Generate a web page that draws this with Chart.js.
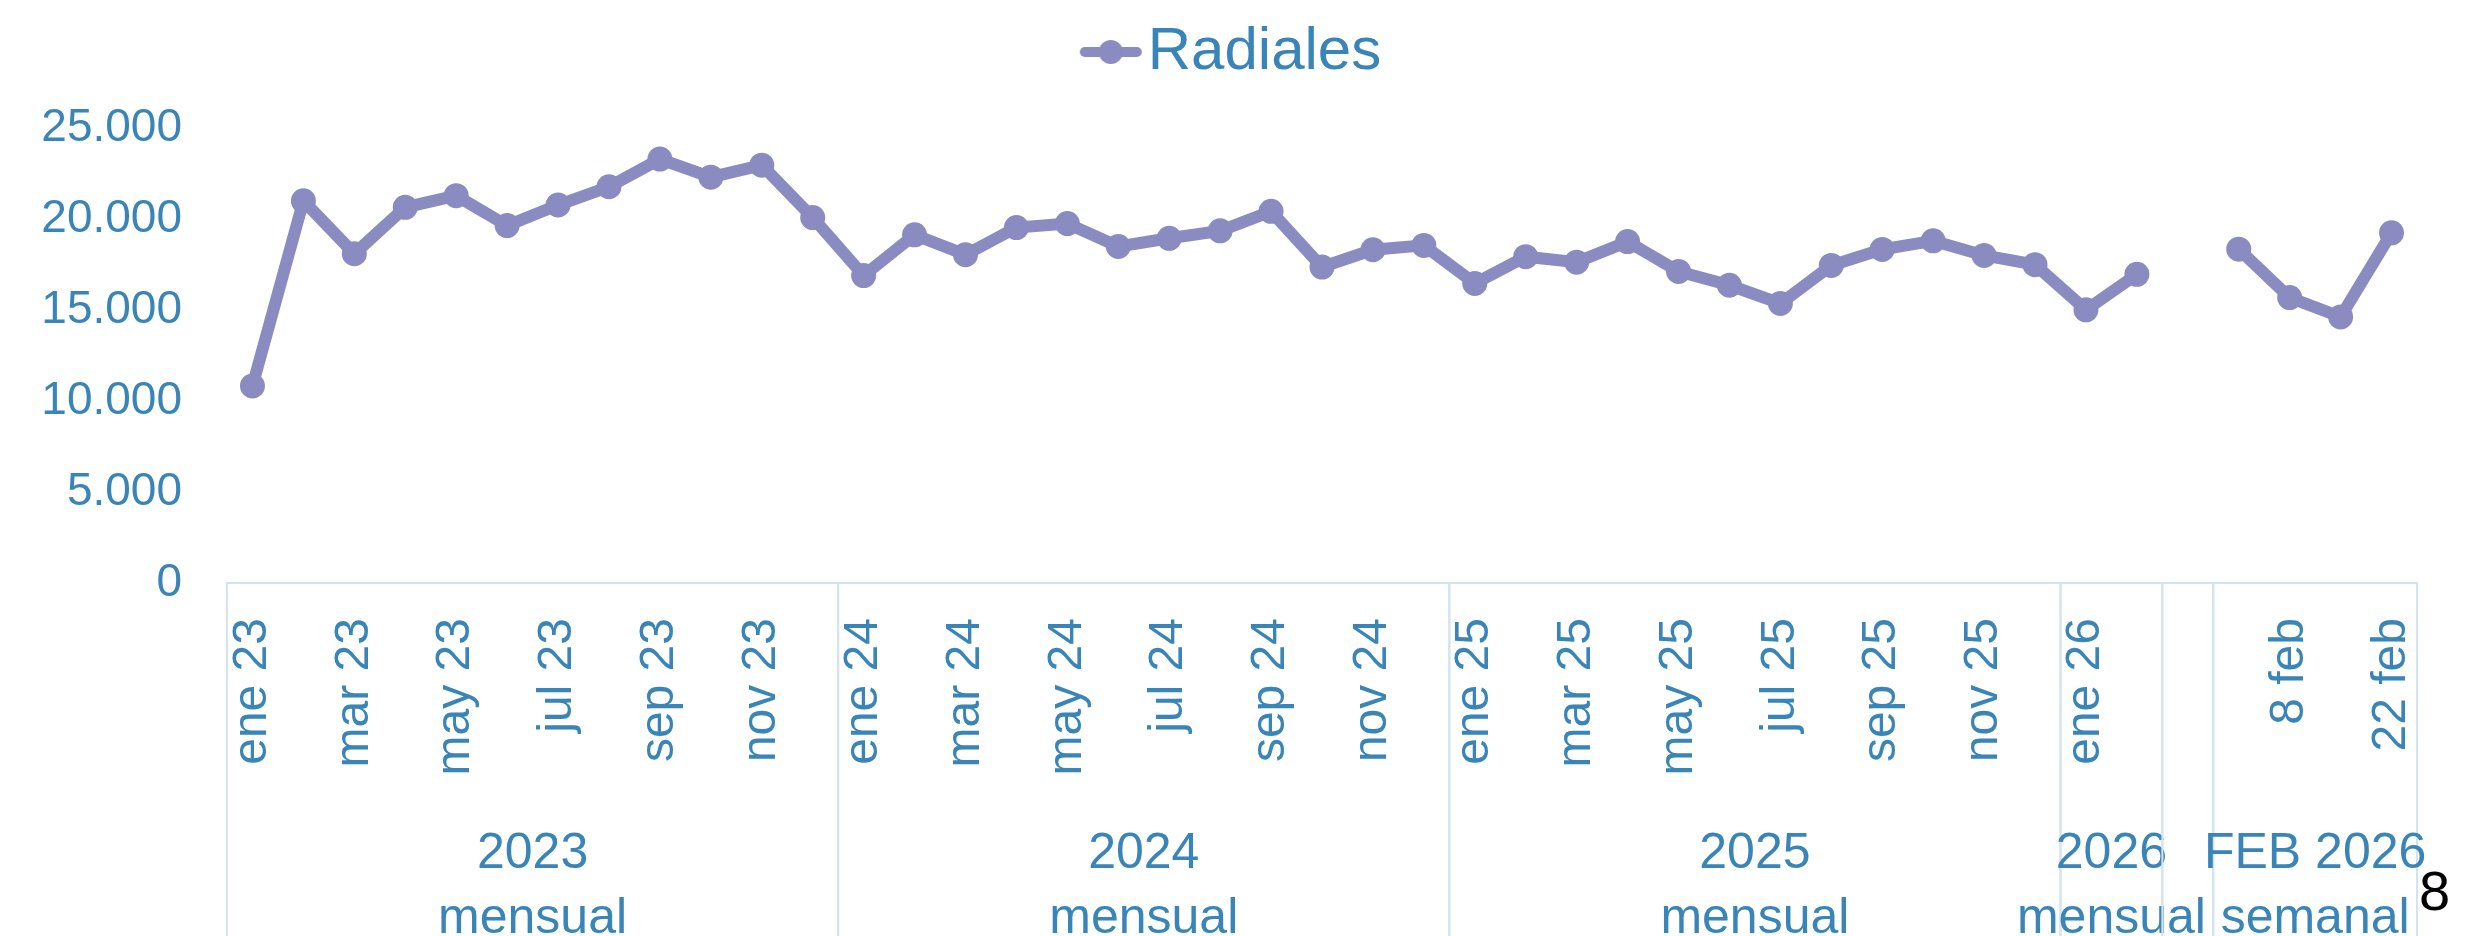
<!DOCTYPE html>
<html>
<head>
<meta charset="utf-8">
<script src="https://cdn.jsdelivr.net/npm/chart.js@4/dist/chart.umd.min.js"></script>
<style>
  html, body { margin: 0; padding: 0; background: #ffffff; }
  #wrap { width: 2468px; height: 936px; position: relative; }
</style>
</head>
<body>
<div id="wrap"><canvas id="myChart"></canvas></div>
<script>
// categorias (mensual 2023-2026 + semanal feb 2026)
const meses2023 = ["ene 23", "feb 23", "mar 23", "abr 23", "may 23", "jun 23", "jul 23", "ago 23", "sep 23", "oct 23", "nov 23", "dic 23"];
const meses2024 = ["ene 24", "feb 24", "mar 24", "abr 24", "may 24", "jun 24", "jul 24", "ago 24", "sep 24", "oct 24", "nov 24", "dic 24"];
const meses2025 = ["ene 25", "feb 25", "mar 25", "abr 25", "may 25", "jun 25", "jul 25", "ago 25", "sep 25", "oct 25", "nov 25", "dic 25"];
const meses2026 = ["ene 26", "feb 26"];
const semanasFeb2026 = ["1 feb", "8 feb", "15 feb", "22 feb"];

// valores de la serie "Radiales"
const radiales2023 = [10830, 21000, 18090, 20640, 21280, 19640, 20770, 21770, 23290, 22300, 22960, 20080];
const radiales2024 = [16890, 19130, 18040, 19530, 19750, 18490, 18940, 19350, 20420, 17360, 18310, 18550];
const radiales2025 = [16460, 17930, 17630, 18760, 17120, 16360, 15360, 17450, 18330, 18800, 18000, 17490];
const radiales2026 = [15010, 16960];
const radialesSemanal = [18340, 15680, 14620, 19240];

// grupos del eje x
const grupoAnio = ["2023", "2024", "2025", "2026", "", "FEB 2026"];
const grupoTipo = ["mensual", "mensual", "mensual", "mensual", "", "semanal"];
const grupoLargo = [12, 12, 12, 2, 1, 4];

const yTicks = [0, 5000, 10000, 15000, 20000, 25000];

const azul = "#3A85B8";
const lineaColor = "#8A8BC0";
const ejeColor = "#D5E3F0";
const fuente = "'Liberation Sans', Arial, sans-serif";

const labels = [...meses2023, ...meses2024, ...meses2025, ...meses2026, "", ...semanasFeb2026];
const valores = [...radiales2023, ...radiales2024, ...radiales2025, ...radiales2026, null, ...radialesSemanal];

// icono de la leyenda: linea con circulo (con margen transparente a la izquierda)
const icono = document.createElement("canvas");
icono.width = 128;
icono.height = 26;
const ic = icono.getContext("2d");
ic.strokeStyle = lineaColor;
ic.lineWidth = 10;
ic.lineCap = "round";
ic.beginPath();
ic.moveTo(64, 13);
ic.lineTo(116, 13);
ic.stroke();
ic.fillStyle = lineaColor;
ic.beginPath();
ic.arc(90, 13, 12, 0, Math.PI * 2);
ic.fill();

// espacio extra bajo la leyenda
const margenLeyenda = {
  id: "margenLeyenda",
  beforeInit(chart) {
    const fit = chart.legend.fit;
    chart.legend.fit = function () {
      fit.bind(chart.legend)();
      this.height += 36;
    };
  },
};

const gruposPlugin = {
  id: "grupos",
  afterDraw(chart) {
    const ctx = chart.ctx;
    const x = chart.scales.x;
    const area = chart.chartArea;
    const half = (x.getPixelForTick(1) - x.getPixelForTick(0)) / 2;
    ctx.save();
    ctx.strokeStyle = ejeColor;
    ctx.lineWidth = 2;
    ctx.fillStyle = azul;
    ctx.font = "50px " + fuente;
    ctx.textAlign = "center";
    ctx.textBaseline = "alphabetic";
    let inicio = 0;
    grupoLargo.forEach((n, g) => {
      const izq = x.getPixelForValue(inicio) - half;
      const der = x.getPixelForValue(inicio + n - 1) + half;
      [izq, der].forEach((px) => {
        ctx.beginPath();
        ctx.moveTo(px, area.bottom);
        ctx.lineTo(px, chart.height);
        ctx.stroke();
      });
      const cx = (izq + der) / 2;
      ctx.fillText(grupoAnio[g], cx, 868);
      ctx.fillText(grupoTipo[g], cx, 933);
      inicio += n;
    });
    // numero de pagina
    ctx.fillStyle = "#000000";
    ctx.font = "56px " + fuente;
    ctx.textAlign = "left";
    ctx.fillText("8", area.right + 2, 910);
    ctx.restore();
  },
};

var ctx = document.getElementById("myChart").getContext("2d");
var myChart = new Chart(ctx, {
  type: "line",
  data: {
    labels: labels,
    datasets: [
      {
        label: "Radiales",
        data: valores,
        borderColor: lineaColor,
        backgroundColor: lineaColor,
        borderWidth: 12,
        pointRadius: 11,
        pointBorderWidth: 3,
        pointBackgroundColor: lineaColor,
        pointBorderColor: lineaColor,
        fill: false,
        tension: 0,
        spanGaps: false,
      },
    ],
  },
  options: {
    responsive: true,
    maintainAspectRatio: false,
    animation: false,
    layout: {
      padding: { top: 12, right: 51, bottom: 0, left: 16 },
    },
    plugins: {
      tooltip: { enabled: false },
      legend: {
        display: true,
        position: "top",
        labels: {
          usePointStyle: true,
          pointStyle: icono,
          pointStyleWidth: 66,
          color: azul,
          font: { family: fuente, size: 60 },
          padding: 10,
        },
      },
    },
    scales: {
      x: {
        type: "category",
        offset: true,
        grid: { display: false, drawTicks: false },
        border: { display: true, color: ejeColor, width: 2 },
        ticks: {
          autoSkip: false,
          maxRotation: 90,
          minRotation: 90,
          padding: 35,
          color: azul,
          font: { family: fuente, size: 48 },
          callback: function (v, i) {
            return i % 2 === 0 ? this.getLabelForValue(v) : "";
          },
        },
        afterFit: (s) => {
          s.height = 353;
          s.paddingLeft = 0;
          s.paddingRight = 0;
        },
      },
      y: {
        min: 0,
        max: 25000,
        afterBuildTicks: (s) => {
          s.ticks = yTicks.map((v) => ({ value: v }));
        },
        grid: { display: false, drawTicks: false },
        border: { display: false },
        ticks: {
          padding: 45,
          color: azul,
          font: { family: fuente, size: 46 },
          callback: (v) => String(v).replace(/\B(?=(\d{3})+(?!\d))/g, "."),
        },
        afterFit: (s) => {
          s.width = 211;
        },
      },
    },
  },
  plugins: [margenLeyenda, gruposPlugin],
});
</script>
</body>
</html>
